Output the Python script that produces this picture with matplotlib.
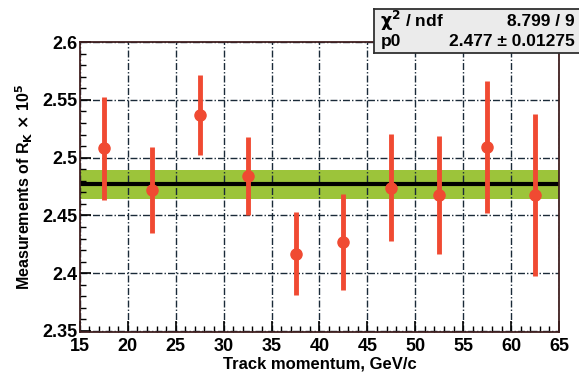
import matplotlib
matplotlib.use('Agg')
import matplotlib.pyplot as plt
import numpy as np

# momentum bins (GeV/c) and measured R_K x 10^5
momentum = [17.5, 22.5, 27.5, 32.5, 37.5, 42.5, 47.5, 52.5, 57.5, 62.5]
rk = [2.508, 2.472, 2.537, 2.484, 2.417, 2.427, 2.474, 2.468, 2.509, 2.468]
rk_err = [0.0445, 0.0375, 0.0345, 0.034, 0.0357, 0.0417, 0.0465, 0.051, 0.057, 0.070]

fit_p0 = 2.477
fit_err = 0.01275
chi2_text = '8.799 / 9'
p0_text = '2.477 \u00b1 0.01275'

plt.rcParams['font.family'] = ['Liberation Sans', 'DejaVu Sans']
plt.rcParams['font.weight'] = 'bold'

fig = plt.figure(figsize=(5.79, 3.76), dpi=100)
ax = fig.add_axes([0.138, 0.116, 0.8275, 0.772])

xmin, xmax = 15, 65
ax.fill_between([xmin, xmax], fit_p0 - fit_err, fit_p0 + fit_err,
                color='#9cc43a', lw=0, zorder=1)
ax.plot([xmin, xmax], [fit_p0, fit_p0], color='black', lw=3, zorder=2)

ax.errorbar(momentum, rk, yerr=rk_err, fmt='o', color='#f04a32', ms=8,
            elinewidth=3.5, capsize=0, zorder=3)

ax.set_xlim(xmin, xmax)
ax.set_ylim(2.3488, 2.6)
ax.set_xticks(np.arange(15, 66, 5))
ax.set_yticks([2.35, 2.4, 2.45, 2.5, 2.55, 2.6])
ax.set_yticklabels(['2.35', '2.4', '2.45', '2.5', '2.55', '2.6'])
ax.set_xticks(np.arange(15, 65, 1), minor=True)
ax.set_yticks(np.arange(2.35, 2.6, 0.01), minor=True)
ax.tick_params(axis='both', which='major', direction='in', length=8, width=1.2,
               labelsize=13, pad=2)
ax.tick_params(axis='x', which='major', pad=4)
ax.tick_params(axis='both', which='minor', direction='in', length=4, width=1)
ax.grid(True, which='major', color='#1a2a38', linestyle=(0, (5, 1.5, 1, 1.5)), lw=1.0,
        zorder=0)
for s in ax.spines.values():
    s.set_color('#402020')
    s.set_linewidth(1.3)
    s.set_zorder(4)

ax.set_xlabel('Track momentum, GeV/c', fontsize=12, fontweight='bold', labelpad=1)
ax.set_ylabel(r'Measurements of R$_\mathbf{K}$ $\mathbf{\times}$ 10$^\mathbf{5}$',
              fontsize=11.5, fontweight='bold', labelpad=5)

# stats box
box = fig.add_axes([0.646, 0.859, 0.37, 0.117])
box.set_xlim(0, 1)
box.set_ylim(0, 1)
box.set_xticks([])
box.set_yticks([])
box.set_facecolor('#ebebeb')
for s in box.spines.values():
    s.set_color('#303030')
    s.set_linewidth(1.3)
box.text(0.03, 0.72, r'$\mathbf{\chi^2}$ / ndf', fontsize=12.5, va='center', ha='left')
box.text(0.935, 0.72, chi2_text, fontsize=12.5, va='center', ha='right')
box.text(0.03, 0.26, 'p0', fontsize=12.5, va='center', ha='left')
box.text(0.935, 0.26, p0_text, fontsize=12.5, va='center', ha='right')

fig.savefig('out.png', dpi=100)
